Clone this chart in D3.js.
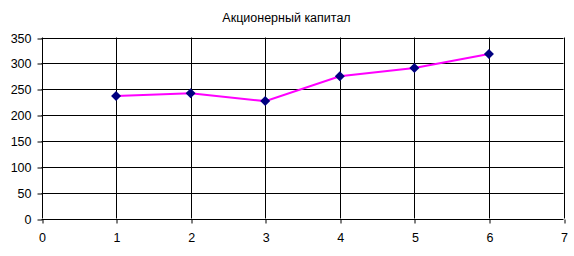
<!DOCTYPE html>
<html>
<head>
<meta charset="utf-8">
<script src="https://cdn.jsdelivr.net/npm/d3@7"></script>
<style>
    body { margin: 0; background: #fff; }
    svg { display: block; font-family: "Liberation Sans", Arial, sans-serif; }
</style>
</head>
<body>
<div id="chart"></div>
<script>
const title = 'Акционерный капитал';
const xValues = [1, 2, 3, 4, 5, 6];
const yValues = [237, 242, 227, 275, 291, 318];
const xTicks = [0, 1, 2, 3, 4, 5, 6, 7];
const yTicks = [0, 50, 100, 150, 200, 250, 300, 350];

function createChart() {
    const width = 574;
    const height = 256;
    const margin = { top: 37.5, right: 10.5, bottom: 37.5, left: 41.5 };

    const svg = d3.select('#chart')
        .append('svg')
        .attr('width', width)
        .attr('height', height);

    const xScale = d3.scaleLinear()
        .domain([0, 7])
        .range([margin.left, width - margin.right]);

    const yScale = d3.scaleLinear()
        .domain([0, 350])
        .range([height - margin.bottom, margin.top]);

    // Title
    svg.append('text')
        .attr('x', 286.5)
        .attr('y', 22)
        .attr('text-anchor', 'middle')
        .attr('font-size', 12.5)
        .attr('fill', '#000')
        .text(title);

    // Grid lines
    const grid = svg.append('g').attr('stroke', '#000').attr('stroke-width', 1);
    grid.selectAll('.h')
        .data(yTicks)
        .join('line')
        .attr('x1', xScale(0))
        .attr('x2', xScale(7))
        .attr('y1', d => Math.round(yScale(d)) + 0.5)
        .attr('y2', d => Math.round(yScale(d)) + 0.5);
    grid.selectAll('.v')
        .data(xTicks)
        .join('line')
        .attr('x1', d => Math.round(xScale(d)) + 0.5)
        .attr('x2', d => Math.round(xScale(d)) + 0.5)
        .attr('y1', yScale(350))
        .attr('y2', yScale(0));

    // Axes
    const xAxis = d3.axisBottom(xScale).tickValues(xTicks).tickSize(4).tickPadding(10).tickFormat(d3.format('d'));
    const yAxis = d3.axisLeft(yScale).tickValues(yTicks).tickSize(5).tickPadding(6).tickFormat(d3.format('d'));

    svg.append('g')
        .attr('transform', `translate(0.5,${Math.round(yScale(0)) + 0.5})`)
        .call(xAxis)
        .call(g => g.select('.domain').remove())
        .call(g => g.selectAll('line').attr('transform', d => `translate(${Math.round(xScale(d)) - xScale(d)},0)`))
        .call(g => g.selectAll('text').attr('font-size', 12.5).attr('fill', '#000').attr('font-family', null));

    svg.append('g')
        .attr('transform', `translate(${Math.round(xScale(0)) + 0.5},0.5)`)
        .call(yAxis)
        .call(g => g.select('.domain').remove())
        .call(g => g.selectAll('line').attr('transform', d => `translate(0,${Math.round(yScale(d)) - yScale(d)})`))
        .call(g => g.selectAll('text').attr('font-size', 12.5).attr('fill', '#000').attr('font-family', null));

    // Series line
    const points = xValues.map((x, i) => ({ x, y: yValues[i] }));
    const line = d3.line()
        .x(d => xScale(d.x))
        .y(d => yScale(d.y));

    svg.append('path')
        .datum(points)
        .attr('fill', 'none')
        .attr('stroke', '#FF00FF')
        .attr('stroke-width', 2)
        .attr('d', line);

    // Diamond markers
    svg.append('g')
        .selectAll('path')
        .data(points)
        .join('path')
        .attr('transform', d => `translate(${xScale(d.x)},${yScale(d.y)})`)
        .attr('d', 'M0,-5L5,0L0,5L-5,0Z')
        .attr('fill', '#000080');
}

document.addEventListener('DOMContentLoaded', createChart);
</script>
</body>
</html>
